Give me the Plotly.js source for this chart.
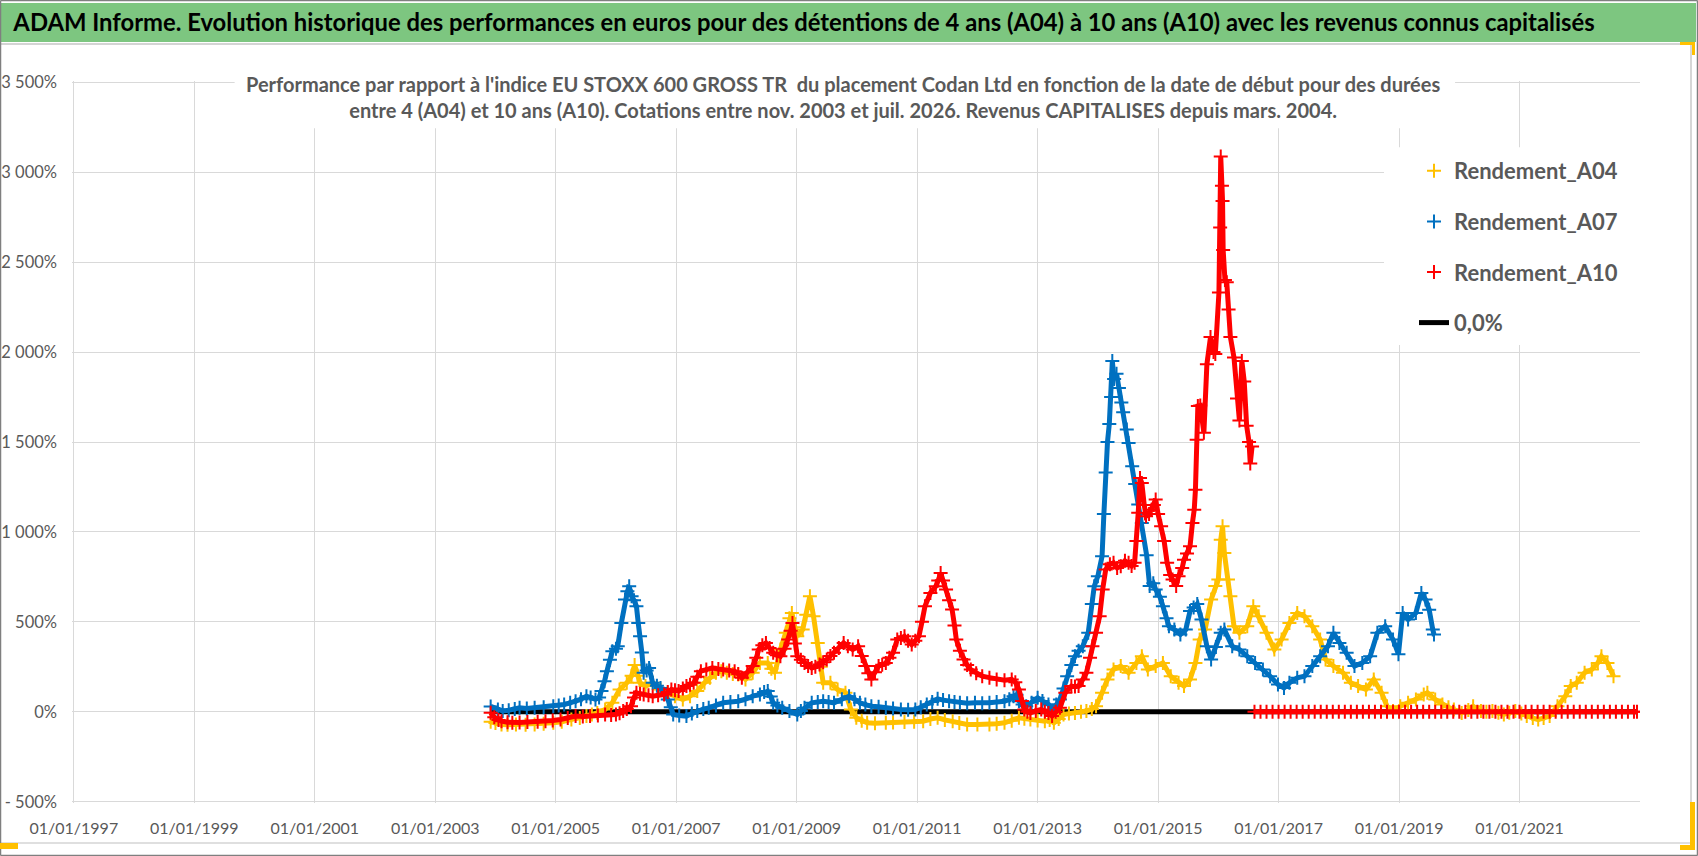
<!DOCTYPE html>
<html>
<head>
<meta charset="utf-8">
<script src="https://cdn.plot.ly/plotly-3.0.1.min.js"></script>
<style>
  html, body { margin: 0; padding: 0; background: #fff; }
  #chart { width: 1698px; height: 856px; }
</style>
</head>
<body>
<div id="chart"></div>
<script>
/*** DATA (x = decimal year of the start date, y = performance in %) ***/

// Rendement_A04
const a04_x = [2003.92, 2004.0, 2004.1, 2004.2, 2004.34, 2004.5, 2004.65, 2004.8, 2004.96, 2005.1, 2005.26, 2005.4, 2005.51, 2005.6, 2005.69, 2005.82, 2005.94, 2006.06, 2006.18, 2006.26, 2006.31, 2006.36, 2006.4, 2006.49, 2006.61, 2006.74, 2006.86, 2006.98, 2007.11, 2007.23, 2007.35, 2007.47, 2007.56, 2007.66, 2007.75, 2007.84, 2007.94, 2008.03, 2008.15, 2008.27, 2008.39, 2008.52, 2008.58, 2008.64, 2008.73, 2008.82, 2008.88, 2008.92, 2008.97, 2009.01, 2009.1, 2009.16, 2009.22, 2009.28, 2009.35, 2009.4, 2009.44, 2009.56, 2009.68, 2009.81, 2009.9, 2009.99, 2010.08, 2010.17, 2010.3, 2010.48, 2010.6, 2010.79, 2010.95, 2011.1, 2011.22, 2011.34, 2011.46, 2011.59, 2011.7, 2011.83, 2012.0, 2012.2, 2012.32, 2012.45, 2012.57, 2012.69, 2012.78, 2012.88, 2013.0, 2013.12, 2013.2, 2013.27, 2013.35, 2013.43, 2013.52, 2013.62, 2013.72, 2013.81, 2013.9, 2013.97, 2014.07, 2014.16, 2014.26, 2014.38, 2014.51, 2014.64, 2014.73, 2014.83, 2014.96, 2015.08, 2015.21, 2015.34, 2015.43, 2015.53, 2015.62, 2015.69, 2015.78, 2015.88, 2015.95, 2016.0, 2016.04, 2016.07, 2016.1, 2016.16, 2016.2, 2016.26, 2016.35, 2016.48, 2016.58, 2016.67, 2016.8, 2016.93, 2017.05, 2017.18, 2017.31, 2017.43, 2017.56, 2017.69, 2017.78, 2017.91, 2018.07, 2018.2, 2018.32, 2018.45, 2018.58, 2018.71, 2018.8, 2018.9, 2019.02, 2019.15, 2019.28, 2019.41, 2019.47, 2019.6, 2019.72, 2019.82, 2019.91, 2020.04, 2020.15, 2020.23, 2020.36, 2020.45, 2020.55, 2020.65, 2020.74, 2020.83, 2020.93, 2021.03, 2021.12, 2021.22, 2021.31, 2021.4, 2021.5, 2021.63, 2021.76, 2021.85, 2021.95, 2022.08, 2022.2, 2022.3, 2022.36, 2022.46, 2022.56];
const a04_y = [-55, -62, -70, -72, -70, -72, -70, -66, -61, -55, -43, -35, -24, -15, -6, 13, 50, 124, 161, 200, 260, 200, 161, 143, 161, 124, 106, 87, 69, 87, 115, 161, 190, 217, 225, 217, 210, 207, 180, 217, 272, 272, 240, 217, 346, 439, 520, 550, 470, 420, 457, 540, 643, 531, 383, 250, 161, 161, 124, 106, 13, -33, -50, -61, -63, -61, -60, -57, -55, -52, -40, -33, -45, -52, -62, -70, -70, -70, -66, -61, -50, -33, -38, -43, -48, -52, -45, -61, -40, -15, -10, -6, 0, 4, 15, 31, 106, 180, 235, 254, 217, 272, 309, 235, 254, 272, 198, 161, 143, 180, 272, 402, 457, 624, 700, 735, 957, 1031, 883, 735, 643, 476, 439, 476, 587, 531, 439, 346, 402, 494, 550, 531, 476, 402, 291, 254, 217, 161, 143, 124, 180, 106, 31, 4, 31, 50, 69, 96, 106, 69, 41, 25, 13, -6, 10, 31, 4, 0, 4, -5, -15, -5, 4, -10, -24, -35, -43, -35, -24, 31, 87, 143, 161, 217, 235, 272, 309, 272, 198];

// Rendement_A07
const a07_x = [2003.92, 2004.04, 2004.12, 2004.22, 2004.32, 2004.4, 2004.52, 2004.65, 2004.8, 2004.96, 2005.05, 2005.14, 2005.24, 2005.33, 2005.42, 2005.51, 2005.58, 2005.66, 2005.72, 2005.76, 2005.81, 2005.85, 2005.9, 2005.94, 2006.0, 2006.03, 2006.09, 2006.15, 2006.19, 2006.22, 2006.26, 2006.3, 2006.34, 2006.37, 2006.4, 2006.43, 2006.46, 2006.51, 2006.55, 2006.61, 2006.68, 2006.74, 2006.8, 2006.86, 2006.91, 2006.95, 2007.05, 2007.17, 2007.26, 2007.35, 2007.45, 2007.54, 2007.66, 2007.78, 2007.9, 2008.03, 2008.15, 2008.27, 2008.39, 2008.46, 2008.52, 2008.57, 2008.61, 2008.68, 2008.76, 2008.88, 2009.01, 2009.07, 2009.13, 2009.25, 2009.35, 2009.44, 2009.53, 2009.62, 2009.75, 2009.87, 2009.96, 2010.05, 2010.14, 2010.24, 2010.36, 2010.48, 2010.6, 2010.73, 2010.85, 2010.97, 2011.06, 2011.16, 2011.25, 2011.34, 2011.43, 2011.53, 2011.62, 2011.71, 2011.83, 2011.96, 2012.08, 2012.2, 2012.32, 2012.45, 2012.53, 2012.6, 2012.65, 2012.69, 2012.75, 2012.81, 2012.9, 2013.0, 2013.08, 2013.18, 2013.24, 2013.31, 2013.37, 2013.43, 2013.49, 2013.56, 2013.62, 2013.68, 2013.75, 2013.84, 2013.9, 2013.94, 2014.0, 2014.07, 2014.1, 2014.13, 2014.16, 2014.19, 2014.22, 2014.24, 2014.27, 2014.31, 2014.35, 2014.39, 2014.42, 2014.48, 2014.51, 2014.57, 2014.62, 2014.67, 2014.73, 2014.81, 2014.86, 2014.92, 2014.96, 2015.03, 2015.08, 2015.14, 2015.18, 2015.27, 2015.37, 2015.46, 2015.53, 2015.59, 2015.65, 2015.72, 2015.81, 2015.88, 2015.96, 2016.04, 2016.1, 2016.23, 2016.35, 2016.48, 2016.61, 2016.74, 2016.86, 2016.99, 2017.09, 2017.18, 2017.31, 2017.43, 2017.56, 2017.69, 2017.82, 2017.91, 2018.01, 2018.13, 2018.26, 2018.39, 2018.52, 2018.64, 2018.77, 2018.9, 2018.99, 2019.06, 2019.15, 2019.28, 2019.37, 2019.44, 2019.5, 2019.56, 2019.58];
const a07_y = [30, 13, 5, 9, 15, 22, 18, 22, 25, 31, 35, 41, 50, 59, 70, 87, 80, 69, 80, 115, 170, 226, 290, 337, 350, 365, 494, 624, 670, 698, 643, 620, 587, 494, 420, 330, 217, 230, 244, 161, 145, 133, 100, 69, 25, -15, -20, -24, -10, 4, 15, 22, 35, 50, 55, 59, 70, 87, 96, 110, 115, 85, 50, 35, 22, 5, -15, 5, 22, 50, 55, 59, 55, 50, 70, 87, 70, 50, 40, 31, 28, 22, 18, 13, 12, 13, 25, 41, 55, 72, 65, 59, 55, 50, 48, 50, 48, 50, 55, 59, 70, 87, 95, 59, 40, 31, 50, 78, 60, 41, 4, 40, 69, 130, 198, 260, 309, 340, 365, 439, 600, 698, 754, 865, 1100, 1330, 1500, 1600, 1750, 1950, 1850, 1880, 1800, 1720, 1665, 1570, 1494, 1365, 1266, 1152, 1050, 870, 700, 715, 680, 640, 587, 520, 476, 457, 430, 457, 560, 580, 600, 513, 365, 291, 360, 439, 457, 365, 346, 309, 272, 235, 198, 152, 133, 161, 189, 198, 254, 309, 365, 439, 383, 328, 254, 272, 309, 439, 476, 402, 320, 550, 513, 550, 661, 624, 568, 457, 430];

// Rendement_A10 while the 10 year horizon is reached
const a10_x = [2003.92, 2003.98, 2004.05, 2004.1, 2004.2, 2004.28, 2004.4, 2004.53, 2004.7, 2004.83, 2004.95, 2005.08, 2005.2, 2005.33, 2005.45, 2005.57, 2005.7, 2005.82, 2005.92, 2006.0, 2006.06, 2006.12, 2006.18, 2006.25, 2006.3, 2006.34, 2006.4, 2006.46, 2006.54, 2006.61, 2006.7, 2006.8, 2006.86, 2006.92, 2006.98, 2007.04, 2007.11, 2007.17, 2007.23, 2007.29, 2007.35, 2007.41, 2007.5, 2007.6, 2007.7, 2007.78, 2007.88, 2007.97, 2008.03, 2008.09, 2008.18, 2008.27, 2008.33, 2008.37, 2008.43, 2008.49, 2008.55, 2008.61, 2008.67, 2008.73, 2008.8, 2008.86, 2008.9, 2008.93, 2008.97, 2009.01, 2009.07, 2009.13, 2009.19, 2009.25, 2009.31, 2009.38, 2009.44, 2009.5, 2009.56, 2009.62, 2009.7, 2009.78, 2009.85, 2009.93, 2010.02, 2010.08, 2010.14, 2010.19, 2010.24, 2010.3, 2010.36, 2010.42, 2010.48, 2010.54, 2010.6, 2010.67, 2010.73, 2010.79, 2010.85, 2010.91, 2010.97, 2011.03, 2011.08, 2011.13, 2011.22, 2011.31, 2011.35, 2011.39, 2011.43, 2011.48, 2011.53, 2011.58, 2011.62, 2011.65, 2011.71, 2011.77, 2011.83, 2011.89, 2011.98, 2012.08, 2012.2, 2012.32, 2012.45, 2012.57, 2012.63, 2012.69, 2012.74, 2012.78, 2012.83, 2012.88, 2012.97, 2013.06, 2013.12, 2013.18, 2013.24, 2013.3, 2013.37, 2013.46, 2013.56, 2013.62, 2013.68, 2013.75, 2013.81, 2013.87, 2013.91, 2013.97, 2014.03, 2014.08, 2014.13, 2014.2, 2014.26, 2014.32, 2014.38, 2014.45, 2014.51, 2014.56, 2014.61, 2014.64, 2014.67, 2014.7, 2014.73, 2014.77, 2014.8, 2014.85, 2014.89, 2014.93, 2014.96, 2015.0, 2015.05, 2015.1, 2015.15, 2015.2, 2015.24, 2015.3, 2015.34, 2015.4, 2015.43, 2015.48, 2015.53, 2015.57, 2015.6, 2015.62, 2015.64, 2015.66, 2015.7, 2015.76, 2015.81, 2015.87, 2015.92, 2015.95, 2016.01, 2016.03, 2016.04, 2016.06, 2016.07, 2016.08, 2016.11, 2016.14, 2016.17, 2016.2, 2016.26, 2016.31, 2016.35, 2016.39, 2016.43, 2016.47, 2016.51, 2016.53, 2016.56];
const a10_y = [-5, -30, -45, -52, -58, -61, -60, -57, -55, -52, -48, -43, -35, -24, -26, -24, -20, -15, -18, -15, -8, 4, 15, 31, 80, 106, 100, 96, 92, 87, 92, 96, 110, 124, 120, 115, 130, 143, 150, 161, 195, 226, 235, 244, 238, 235, 230, 226, 210, 189, 220, 254, 300, 346, 370, 383, 355, 328, 315, 309, 350, 402, 450, 494, 380, 309, 290, 272, 255, 244, 250, 263, 275, 291, 310, 328, 355, 383, 365, 346, 365, 310, 254, 215, 180, 220, 254, 262, 272, 300, 328, 402, 410, 420, 395, 374, 395, 420, 500, 587, 661, 698, 730, 772, 730, 680, 620, 569, 480, 402, 340, 291, 260, 235, 215, 198, 190, 180, 175, 180, 165, 124, 60, 13, 0, -6, 5, 13, 0, -6, -24, 0, 22, 106, 143, 140, 143, 180, 217, 300, 365, 439, 531, 680, 791, 820, 828, 800, 809, 840, 828, 810, 828, 950, 1106, 1300, 1272, 1150, 1087, 1100, 1124, 1150, 1180, 1100, 1031, 950, 828, 760, 735, 700, 754, 800, 846, 880, 920, 1050, 1124, 1235, 1513, 1700, 1703, 1551, 1932, 2084, 2000, 1989, 2331, 2692, 3087, 2924, 2840, 2568, 2400, 2388, 2236, 2084, 1970, 1742, 1620, 1951, 1837, 1590, 1500, 1380, 1475];

// Rendement_A10 after the horizon: plotted at 0
const a10_pad_x = [2016.6, 2016.7, 2016.8, 2016.9, 2017.0, 2017.1, 2017.2, 2017.3, 2017.4, 2017.5, 2017.6, 2017.7, 2017.8, 2017.9, 2018.0, 2018.1, 2018.2, 2018.3, 2018.4, 2018.5, 2018.6, 2018.7, 2018.8, 2018.9, 2019.0, 2019.1, 2019.2, 2019.3, 2019.4, 2019.5, 2019.6, 2019.7, 2019.8, 2019.9, 2020.0, 2020.1, 2020.2, 2020.3, 2020.4, 2020.5, 2020.6, 2020.7, 2020.8, 2020.9, 2021.0, 2021.1, 2021.2, 2021.3, 2021.4, 2021.5, 2021.6, 2021.7, 2021.8, 2021.9, 2022.0, 2022.1, 2022.2, 2022.3, 2022.4, 2022.5, 2022.6, 2022.7, 2022.8, 2022.9, 2022.95];
const a10_pad_y = [0, 0, 0, 0, 0, 0, 0, 0, 0, 0, 0, 0, 0, 0, 0, 0, 0, 0, 0, 0, 0, 0, 0, 0, 0, 0, 0, 0, 0, 0, 0, 0, 0, 0, 0, 0, 0, 0, 0, 0, 0, 0, 0, 0, 0, 0, 0, 0, 0, 0, 0, 0, 0, 0, 0, 0, 0, 0, 0, 0, 0, 0, 0, 0, 0];

// 0,0% reference line
const zero_x = [2003.92, 2022.95];
const zero_y = [0, 0];

// axis ticks
const x_tickvals = [1997, 1999, 2001, 2003, 2005, 2007, 2009, 2011, 2013, 2015, 2017, 2019, 2021];
const x_ticktext = ['01/01/1997', '01/01/1999', '01/01/2001', '01/01/2003', '01/01/2005', '01/01/2007', '01/01/2009',
  '01/01/2011', '01/01/2013', '01/01/2015', '01/01/2017', '01/01/2019', '01/01/2021'];
const y_tickvals = [-500, 0, 500, 1000, 1500, 2000, 2500, 3000, 3500];
const y_ticktext = ['- 500%', '0%', '500%', '1 000%', '1 500%', '2 000%', '2 500%', '3 000%', '3 500%'];

const series_names = ['Rendement_A04', 'Rendement_A07', 'Rendement_A10', '0,0%'];
const series_colors = ['#FFC000', '#0070C0', '#FF0000', '#000000'];

const main_title = 'ADAM Informe. Evolution historique des performances en euros pour des détentions de 4 ans (A04) à 10 ans (A10) avec les revenus connus capitalisés';
const sub_title = ["Performance par rapport à l'indice EU STOXX 600 GROSS TR  du placement Codan Ltd en fonction de la date de début pour des durées",
  'entre 4 (A04) et 10 ans (A10). Cotations entre nov. 2003 et juil. 2026. Revenus CAPITALISES depuis mars. 2004.'];


/*** LAYOUT HELPERS ***/
const W = 1698, H = 856;
// axis ranges are padded a hair so the edge gridlines are not dropped
const ML = 72, MR = 58, MT = 81, MB = 53;
const PW = W - ML - MR, PH = H - MT - MB;
const FONT = 'Lato, sans-serif';
const GREY = '#595959';

// pixel -> paper coordinates
function px(x) { return (x - ML) / PW; }
function py(y) { return (H - MB - y) / PH; }

function rect(x0, y0, x1, y1, fill) {
    return {
        type: 'rect', xref: 'paper', yref: 'paper', layer: 'above',
        x0: px(x0), x1: px(x1), y0: py(y1), y1: py(y0),
        fillcolor: fill, line: { width: 0 }
    };
}

function pline(x0, y0, x1, y1, color, width) {
    return {
        type: 'line', xref: 'paper', yref: 'paper', layer: 'above',
        x0: px(x0), x1: px(x1), y0: py(y0), y1: py(y1),
        line: { color: color, width: width }
    };
}

// white box in data space, hides the gridlines behind a text block
function cover(x0, x1, y0, y1) {
    return {
        type: 'rect', xref: 'x', yref: 'y', layer: 'between',
        x0: x0, x1: x1, y0: y0, y1: y1,
        fillcolor: '#ffffff', line: { width: 0 }
    };
}


/*** TRACES ***/
function band_trace(x, y, color) {
    // joining line so the dense cloud of crosses reads as a band
    return {
        x: x, y: y, type: 'scatter', mode: 'lines', hoverinfo: 'skip',
        line: { color: color, width: 5 }, showlegend: false
    };
}

function cross_trace(x, y, name, color, rank) {
    return {
        x: x, y: y, type: 'scatter', mode: 'markers', name: name,
        legendgroup: name, legendrank: rank,
        marker: { symbol: 'cross-thin', size: 10, color: color, line: { color: color, width: 2 } }
    };
}

const traces = [
    {
        x: zero_x, y: zero_y, type: 'scatter', mode: 'lines', name: series_names[3],
        legendgroup: series_names[3], legendrank: 4,
        line: { color: series_colors[3], width: 5 }
    },
    band_trace(a04_x, a04_y, series_colors[0]),
    cross_trace(a04_x, a04_y, series_names[0], series_colors[0], 1),
    band_trace(a07_x, a07_y, series_colors[1]),
    cross_trace(a07_x, a07_y, series_names[1], series_colors[1], 2),
    band_trace(a10_x, a10_y, series_colors[2]),
    band_trace(a10_pad_x, a10_pad_y, series_colors[2]),
    cross_trace(a10_x.concat(a10_pad_x), a10_y.concat(a10_pad_y), series_names[2], series_colors[2], 3)
];


/*** LAYOUT ***/
const shapes = [
    // green banner
    rect(1, 3, 1696, 42, '#7DC680'),
    pline(1, 44, 1691, 44, '#D4D4D4', 2),
    // chart frame
    pline(1691, 44, 1691, 843, '#C8C8C8', 1.5),
    pline(1, 843, 1691, 843, '#D4D4D4', 1.5),
    // outer border
    pline(0.5, 0.5, 1697.5, 0.5, '#7F7F7F', 1.5),
    pline(0.5, 855.5, 1697.5, 855.5, '#7F7F7F', 1.5),
    pline(0.5, 0.5, 0.5, 855.5, '#7F7F7F', 1.5),
    pline(1697.5, 0.5, 1697.5, 855.5, '#7F7F7F', 1.5),
    // selection handles
    rect(0, 843, 18, 849, '#FFC000'),
    rect(1680, 42, 1695, 45, '#FFC000'),
    rect(1692, 42, 1695, 55, '#FFC000'),
    rect(1690, 802, 1695, 850, '#FFC000'),
    rect(1680, 845, 1695, 850, '#FFC000'),
    // boxes behind the subtitle and the legend
    cover(1999.67, 2019.93, 3244, 3600),
    cover(2018.75, 2023.5, 2039, 3139)
];

const layout = {
    width: W, height: H,
    margin: { l: ML, r: MR, t: MT, b: MB, pad: 0 },
    paper_bgcolor: '#ffffff',
    plot_bgcolor: '#ffffff',
    showlegend: true,
    title: {
        text: main_title,
        xref: 'container', yref: 'container',
        x: 804 / W, xanchor: 'center',
        y: 1 - 23 / H, yanchor: 'middle',
        font: { family: FONT, size: 23.8, color: '#000000', weight: 'bold' }
    },
    annotations: [{
        text: sub_title.join('<br>'),
        xref: 'paper', yref: 'paper',
        x: px(843), y: py(97), xanchor: 'center', yanchor: 'middle',
        showarrow: false, align: 'center',
        font: { family: FONT, size: 20, color: GREY, weight: 'bold' }
    }],
    xaxis: {
        range: [1996.97, 2023],
        tickmode: 'array', tickvals: x_tickvals, ticktext: x_ticktext,
        showgrid: true, gridcolor: '#D9D9D9', gridwidth: 1,
        zeroline: false, showline: false, ticks: '',
        ticklabelstandoff: 14,
        tickfont: { family: FONT, size: 16, color: GREY }
    },
    yaxis: {
        range: [-507, 3507],
        tickmode: 'array', tickvals: y_tickvals, ticktext: y_ticktext,
        showgrid: true, gridcolor: '#D9D9D9', gridwidth: 1,
        zeroline: false, showline: false, ticks: '',
        ticklabelstandoff: 14,
        tickfont: { family: FONT, size: 16.5, color: GREY }
    },
    legend: {
        x: px(1414), y: py(150), xanchor: 'left', yanchor: 'top',
        bgcolor: 'rgba(0,0,0,0)', borderwidth: 0,
        tracegroupgap: 19, traceorder: 'grouped',
        font: { family: FONT, size: 22, color: GREY, weight: 'bold' }
    },
    shapes: shapes
};

Plotly.newPlot('chart', traces, layout, { displayModeBar: false, staticPlot: true });
</script>
</body>
</html>
